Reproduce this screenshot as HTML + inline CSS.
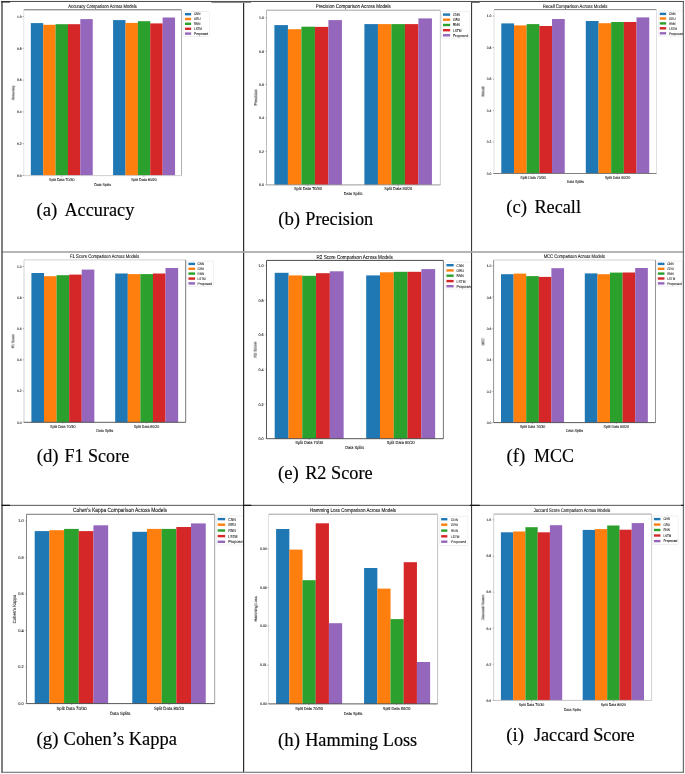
<!DOCTYPE html>
<html><head><meta charset="utf-8"><title>Metric comparison across models</title>
<style>html,body{margin:0;padding:0;background:#fff}body{width:685px;height:774px;overflow:hidden}svg{display:block;will-change:transform;opacity:0.999}.s{font-family:"Liberation Sans",sans-serif;fill:#1c1c1c;text-rendering:geometricPrecision}.s{stroke:#1c1c1c;stroke-width:0.1px;filter:url(#bl)}.l{stroke-width:0.08px;fill:#1c1c1c}.t{filter:none;fill:#111;stroke:#1c1c1c;stroke-width:0.1px}.c{font-family:"Liberation Serif",serif;font-size:17.9px;fill:#000;stroke:#000;stroke-width:0.16px}</style></head><body>
<svg width="685" height="774" viewBox="0 0 685 774">
<defs><filter id="bl" x="-5%" y="-30%" width="110%" height="160%"><feGaussianBlur stdDeviation="0.28"/></filter></defs>
<rect x="0" y="0" width="685" height="774" fill="#fff"/>
<g>
<rect x="30.8" y="23.1" width="12.43" height="152.5" fill="#1f77b4"/>
<rect x="43.18" y="24.8" width="12.43" height="150.8" fill="#ff7f0e"/>
<rect x="55.56" y="24.2" width="12.43" height="151.4" fill="#2ca02c"/>
<rect x="67.94" y="24.2" width="12.43" height="151.4" fill="#d62728"/>
<rect x="80.32" y="19.1" width="12.43" height="156.5" fill="#9467bd"/>
<rect x="113.1" y="20.1" width="12.43" height="155.5" fill="#1f77b4"/>
<rect x="125.48" y="22.9" width="12.43" height="152.7" fill="#ff7f0e"/>
<rect x="137.86" y="21.2" width="12.43" height="154.4" fill="#2ca02c"/>
<rect x="150.24" y="23.4" width="12.43" height="152.2" fill="#d62728"/>
<rect x="162.62" y="17.5" width="12.43" height="158.1" fill="#9467bd"/>
<line x1="23.8" y1="9.8" x2="181.5" y2="9.8" stroke="#5a5a5a" stroke-width="0.9"/>
<line x1="181.5" y1="9.8" x2="181.5" y2="175.6" stroke="#a8a8a8" stroke-width="0.9"/>
<line x1="23.8" y1="9.8" x2="23.8" y2="175.6" stroke="#e0e0e0" stroke-width="0.9"/>
<line x1="23.8" y1="175.6" x2="181.5" y2="175.6" stroke="#ccc" stroke-width="0.9"/>
<line x1="22.6" y1="16.5" x2="23.8" y2="16.5" stroke="#666" stroke-width="0.5"/>
<text class="s" x="21.6" y="17.85" font-size="3.33" text-anchor="end" textLength="4.54" lengthAdjust="spacingAndGlyphs">1.0</text>
<line x1="22.6" y1="48.3" x2="23.8" y2="48.3" stroke="#666" stroke-width="0.5"/>
<text class="s" x="21.6" y="49.65" font-size="3.33" text-anchor="end" textLength="4.54" lengthAdjust="spacingAndGlyphs">0.8</text>
<line x1="22.6" y1="80.1" x2="23.8" y2="80.1" stroke="#666" stroke-width="0.5"/>
<text class="s" x="21.6" y="81.45" font-size="3.33" text-anchor="end" textLength="4.54" lengthAdjust="spacingAndGlyphs">0.6</text>
<line x1="22.6" y1="111.9" x2="23.8" y2="111.9" stroke="#666" stroke-width="0.5"/>
<text class="s" x="21.6" y="113.25" font-size="3.33" text-anchor="end" textLength="4.54" lengthAdjust="spacingAndGlyphs">0.4</text>
<line x1="22.6" y1="143.7" x2="23.8" y2="143.7" stroke="#666" stroke-width="0.5"/>
<text class="s" x="21.6" y="145.05" font-size="3.33" text-anchor="end" textLength="4.54" lengthAdjust="spacingAndGlyphs">0.2</text>
<line x1="22.6" y1="175.5" x2="23.8" y2="175.5" stroke="#666" stroke-width="0.5"/>
<text class="s" x="21.6" y="176.85" font-size="3.33" text-anchor="end" textLength="4.54" lengthAdjust="spacingAndGlyphs">0.0</text>
<line x1="61.8" y1="175.6" x2="61.8" y2="176.8" stroke="#555" stroke-width="0.5"/>
<text class="s" x="61.8" y="180.59" font-size="3.86" text-anchor="middle" textLength="25.5" lengthAdjust="spacingAndGlyphs">Split Data 70/30</text>
<line x1="143.9" y1="175.6" x2="143.9" y2="176.8" stroke="#555" stroke-width="0.5"/>
<text class="s" x="143.9" y="180.59" font-size="3.86" text-anchor="middle" textLength="25.5" lengthAdjust="spacingAndGlyphs">Split Data 80/20</text>
<text class="s" x="102.6" y="185.69" font-size="3.86" text-anchor="middle" textLength="16.8" lengthAdjust="spacingAndGlyphs">Data Splits</text>
<text class="s" x="0" y="1.39" font-size="3.86" text-anchor="middle" textLength="14.7" lengthAdjust="spacingAndGlyphs" transform="translate(13.4 92.8) rotate(-90)">Accuracy</text>
<text class="s t" x="102.6" y="7.91" font-size="5.04" text-anchor="middle" textLength="68.6" lengthAdjust="spacingAndGlyphs">Accuracy Comparison Across Models</text>
<clipPath id="lc0"><rect x="182.2" y="10.5" width="27.6" height="27"/></clipPath><g clip-path="url(#lc0)">
<rect x="183.2" y="11.5" width="26.3" height="25" rx="0.8" fill="#fff" stroke="#e4e4e4" stroke-width="0.6"/>
<rect x="184.95" y="13" width="6.2" height="2.4" fill="#1f77b4"/>
<text class="s l" x="194" y="15.46" font-size="3.5" textLength="6.36" lengthAdjust="spacingAndGlyphs">CNN</text>
<rect x="184.95" y="17.8" width="6.2" height="2.4" fill="#ff7f0e"/>
<text class="s l" x="194" y="20.26" font-size="3.5" textLength="6.52" lengthAdjust="spacingAndGlyphs">GRU</text>
<rect x="184.95" y="22.6" width="6.2" height="2.4" fill="#2ca02c"/>
<text class="s l" x="194" y="25.06" font-size="3.5" textLength="6.36" lengthAdjust="spacingAndGlyphs">RNN</text>
<rect x="184.95" y="27.6" width="6.2" height="2.4" fill="#d62728"/>
<text class="s l" x="194" y="30.06" font-size="3.5" textLength="7.83" lengthAdjust="spacingAndGlyphs">LSTM</text>
<rect x="184.95" y="32.4" width="6.2" height="2.4" fill="#9467bd"/>
<text class="s l" x="194" y="34.86" font-size="3.5" textLength="14" lengthAdjust="spacingAndGlyphs">Proposed</text>
</g>
<text class="c" x="36.5" y="215.7" textLength="20.87" lengthAdjust="spacingAndGlyphs">(a)</text>
<text class="c" x="64.4" y="215.7" textLength="69.91" lengthAdjust="spacingAndGlyphs">Accuracy</text>
</g>
<g>
<rect x="274.4" y="25.1" width="13.55" height="159.8" fill="#1f77b4"/>
<rect x="287.9" y="29.2" width="13.55" height="155.7" fill="#ff7f0e"/>
<rect x="301.4" y="26.7" width="13.55" height="158.2" fill="#2ca02c"/>
<rect x="314.9" y="26.9" width="13.55" height="158" fill="#d62728"/>
<rect x="328.4" y="20.1" width="13.55" height="164.8" fill="#9467bd"/>
<rect x="364.4" y="24.1" width="13.55" height="160.8" fill="#1f77b4"/>
<rect x="377.9" y="24.1" width="13.55" height="160.8" fill="#ff7f0e"/>
<rect x="391.4" y="24.1" width="13.55" height="160.8" fill="#2ca02c"/>
<rect x="404.9" y="24.1" width="13.55" height="160.8" fill="#d62728"/>
<rect x="418.4" y="18.4" width="13.55" height="166.5" fill="#9467bd"/>
<line x1="266.5" y1="10.2" x2="440.4" y2="10.2" stroke="#999" stroke-width="0.9"/>
<line x1="440.4" y1="10.2" x2="440.4" y2="184.9" stroke="#c8c8c8" stroke-width="0.9"/>
<line x1="266.5" y1="10.2" x2="266.5" y2="184.9" stroke="#b4b4b4" stroke-width="0.9"/>
<line x1="266.5" y1="184.9" x2="440.4" y2="184.9" stroke="#909090" stroke-width="0.9"/>
<line x1="265.3" y1="17.8" x2="266.5" y2="17.8" stroke="#666" stroke-width="0.5"/>
<text class="s" x="264" y="19.27" font-size="3.67" text-anchor="end" textLength="5.01" lengthAdjust="spacingAndGlyphs">1.0</text>
<line x1="265.3" y1="51.2" x2="266.5" y2="51.2" stroke="#666" stroke-width="0.5"/>
<text class="s" x="264" y="52.67" font-size="3.67" text-anchor="end" textLength="5.01" lengthAdjust="spacingAndGlyphs">0.8</text>
<line x1="265.3" y1="84.5" x2="266.5" y2="84.5" stroke="#666" stroke-width="0.5"/>
<text class="s" x="264" y="85.97" font-size="3.67" text-anchor="end" textLength="5.01" lengthAdjust="spacingAndGlyphs">0.6</text>
<line x1="265.3" y1="117.9" x2="266.5" y2="117.9" stroke="#666" stroke-width="0.5"/>
<text class="s" x="264" y="119.37" font-size="3.67" text-anchor="end" textLength="5.01" lengthAdjust="spacingAndGlyphs">0.4</text>
<line x1="265.3" y1="151.4" x2="266.5" y2="151.4" stroke="#666" stroke-width="0.5"/>
<text class="s" x="264" y="152.87" font-size="3.67" text-anchor="end" textLength="5.01" lengthAdjust="spacingAndGlyphs">0.2</text>
<line x1="265.3" y1="184.8" x2="266.5" y2="184.8" stroke="#666" stroke-width="0.5"/>
<text class="s" x="264" y="186.27" font-size="3.67" text-anchor="end" textLength="5.01" lengthAdjust="spacingAndGlyphs">0.0</text>
<line x1="308" y1="184.9" x2="308" y2="186.1" stroke="#555" stroke-width="0.5"/>
<text class="s" x="308" y="190.23" font-size="4.26" text-anchor="middle" textLength="28" lengthAdjust="spacingAndGlyphs">Split Data 70/30</text>
<line x1="398.3" y1="184.9" x2="398.3" y2="186.1" stroke="#555" stroke-width="0.5"/>
<text class="s" x="398.3" y="190.23" font-size="4.26" text-anchor="middle" textLength="28" lengthAdjust="spacingAndGlyphs">Split Data 80/20</text>
<text class="s" x="353.1" y="194.93" font-size="4.26" text-anchor="middle" textLength="18.6" lengthAdjust="spacingAndGlyphs">Data Splits</text>
<text class="s" x="0" y="1.53" font-size="4.26" text-anchor="middle" textLength="15.93" lengthAdjust="spacingAndGlyphs" transform="translate(255.2 97.5) rotate(-90)">Precision</text>
<text class="s t" x="353.3" y="8.3" font-size="5.56" text-anchor="middle" textLength="75" lengthAdjust="spacingAndGlyphs">Precision Comparison Across Models</text>
<clipPath id="lc1"><rect x="440.5" y="10.7" width="29.8" height="28.5"/></clipPath><g clip-path="url(#lc1)">
<rect x="441.5" y="11.7" width="28.5" height="26.5" rx="0.8" fill="#fff" stroke="#e4e4e4" stroke-width="0.6"/>
<rect x="442.95" y="13.4" width="7.2" height="2.4" fill="#1f77b4"/>
<text class="s l" x="452.9" y="15.99" font-size="3.86" textLength="7.01" lengthAdjust="spacingAndGlyphs">CNN</text>
<rect x="442.95" y="18.5" width="7.2" height="2.4" fill="#ff7f0e"/>
<text class="s l" x="452.9" y="21.09" font-size="3.86" textLength="7.19" lengthAdjust="spacingAndGlyphs">GRU</text>
<rect x="442.95" y="23.8" width="7.2" height="2.4" fill="#2ca02c"/>
<text class="s l" x="452.9" y="26.39" font-size="3.86" textLength="7.01" lengthAdjust="spacingAndGlyphs">RNN</text>
<rect x="442.95" y="29" width="7.2" height="2.4" fill="#d62728"/>
<text class="s l" x="452.9" y="31.59" font-size="3.86" textLength="8.64" lengthAdjust="spacingAndGlyphs">LSTM</text>
<rect x="442.95" y="34.1" width="7.2" height="2.4" fill="#9467bd"/>
<text class="s l" x="452.9" y="36.69" font-size="3.86" textLength="15.44" lengthAdjust="spacingAndGlyphs">Proposed</text>
</g>
<text class="c" x="278.2" y="224.7" textLength="21.92" lengthAdjust="spacingAndGlyphs">(b)</text>
<text class="c" x="305.3" y="224.7" textLength="67.92" lengthAdjust="spacingAndGlyphs">Precision</text>
</g>
<g>
<rect x="501.3" y="23.4" width="12.73" height="150.1" fill="#1f77b4"/>
<rect x="513.98" y="25.4" width="12.73" height="148.1" fill="#ff7f0e"/>
<rect x="526.66" y="24.1" width="12.73" height="149.4" fill="#2ca02c"/>
<rect x="539.34" y="26" width="12.73" height="147.5" fill="#d62728"/>
<rect x="552.02" y="19" width="12.73" height="154.5" fill="#9467bd"/>
<rect x="585.8" y="21" width="12.73" height="152.5" fill="#1f77b4"/>
<rect x="598.48" y="23.2" width="12.73" height="150.3" fill="#ff7f0e"/>
<rect x="611.16" y="22" width="12.73" height="151.5" fill="#2ca02c"/>
<rect x="623.84" y="22" width="12.73" height="151.5" fill="#d62728"/>
<rect x="636.52" y="17.4" width="12.73" height="156.1" fill="#9467bd"/>
<line x1="494" y1="9.6" x2="656.5" y2="9.6" stroke="#777" stroke-width="0.9"/>
<line x1="656.5" y1="9.6" x2="656.5" y2="173.5" stroke="#ddd" stroke-width="0.9"/>
<line x1="494" y1="9.6" x2="494" y2="173.5" stroke="#ddd" stroke-width="0.9"/>
<line x1="494" y1="173.5" x2="656.5" y2="173.5" stroke="#707070" stroke-width="0.9"/>
<line x1="492.8" y1="16.1" x2="494" y2="16.1" stroke="#666" stroke-width="0.5"/>
<text class="s" x="491.5" y="17.49" font-size="3.43" text-anchor="end" textLength="4.68" lengthAdjust="spacingAndGlyphs">1.0</text>
<line x1="492.8" y1="47.6" x2="494" y2="47.6" stroke="#666" stroke-width="0.5"/>
<text class="s" x="491.5" y="48.99" font-size="3.43" text-anchor="end" textLength="4.68" lengthAdjust="spacingAndGlyphs">0.8</text>
<line x1="492.8" y1="79" x2="494" y2="79" stroke="#666" stroke-width="0.5"/>
<text class="s" x="491.5" y="80.39" font-size="3.43" text-anchor="end" textLength="4.68" lengthAdjust="spacingAndGlyphs">0.6</text>
<line x1="492.8" y1="110.5" x2="494" y2="110.5" stroke="#666" stroke-width="0.5"/>
<text class="s" x="491.5" y="111.89" font-size="3.43" text-anchor="end" textLength="4.68" lengthAdjust="spacingAndGlyphs">0.4</text>
<line x1="492.8" y1="142" x2="494" y2="142" stroke="#666" stroke-width="0.5"/>
<text class="s" x="491.5" y="143.39" font-size="3.43" text-anchor="end" textLength="4.68" lengthAdjust="spacingAndGlyphs">0.2</text>
<line x1="492.8" y1="173.5" x2="494" y2="173.5" stroke="#666" stroke-width="0.5"/>
<text class="s" x="491.5" y="174.89" font-size="3.43" text-anchor="end" textLength="4.68" lengthAdjust="spacingAndGlyphs">0.0</text>
<line x1="533" y1="173.5" x2="533" y2="174.7" stroke="#555" stroke-width="0.5"/>
<text class="s" x="533" y="178.73" font-size="3.98" text-anchor="middle" textLength="25.5" lengthAdjust="spacingAndGlyphs">Split Data 70/30</text>
<line x1="617.5" y1="173.5" x2="617.5" y2="174.7" stroke="#555" stroke-width="0.5"/>
<text class="s" x="617.5" y="178.73" font-size="3.98" text-anchor="middle" textLength="25.5" lengthAdjust="spacingAndGlyphs">Split Data 80/20</text>
<text class="s" x="575.2" y="182.83" font-size="3.98" text-anchor="middle" textLength="17" lengthAdjust="spacingAndGlyphs">Data Splits</text>
<text class="s" x="0" y="1.43" font-size="3.98" text-anchor="middle" textLength="10.06" lengthAdjust="spacingAndGlyphs" transform="translate(483.4 91.5) rotate(-90)">Recall</text>
<text class="s t" x="575.1" y="7.87" font-size="5.19" text-anchor="middle" textLength="64.6" lengthAdjust="spacingAndGlyphs">Recall Comparison Across Models</text>
<clipPath id="lc2"><rect x="657.4" y="10" width="26.1" height="27"/></clipPath><g clip-path="url(#lc2)">
<rect x="658.4" y="11" width="24.8" height="25" rx="0.8" fill="#fff" stroke="#e4e4e4" stroke-width="0.6"/>
<rect x="659.75" y="12.7" width="6.4" height="2.4" fill="#1f77b4"/>
<text class="s l" x="669" y="15.2" font-size="3.61" textLength="6.55" lengthAdjust="spacingAndGlyphs">CNN</text>
<rect x="659.75" y="17.3" width="6.4" height="2.4" fill="#ff7f0e"/>
<text class="s l" x="669" y="19.8" font-size="3.61" textLength="6.72" lengthAdjust="spacingAndGlyphs">GRU</text>
<rect x="659.75" y="22.2" width="6.4" height="2.4" fill="#2ca02c"/>
<text class="s l" x="669" y="24.7" font-size="3.61" textLength="6.55" lengthAdjust="spacingAndGlyphs">RNN</text>
<rect x="659.75" y="27.1" width="6.4" height="2.4" fill="#d62728"/>
<text class="s l" x="669" y="29.6" font-size="3.61" textLength="8.07" lengthAdjust="spacingAndGlyphs">LSTM</text>
<rect x="659.75" y="32.1" width="6.4" height="2.4" fill="#9467bd"/>
<text class="s l" x="669" y="34.6" font-size="3.61" textLength="14.42" lengthAdjust="spacingAndGlyphs">Proposed</text>
</g>
<text class="c" x="506.2" y="213.1" textLength="20.87" lengthAdjust="spacingAndGlyphs">(c)</text>
<text class="c" x="534.4" y="213.1" textLength="46.61" lengthAdjust="spacingAndGlyphs">Recall</text>
</g>
<g>
<rect x="31.4" y="273" width="12.63" height="149.3" fill="#1f77b4"/>
<rect x="43.98" y="276.2" width="12.63" height="146.1" fill="#ff7f0e"/>
<rect x="56.56" y="275.2" width="12.63" height="147.1" fill="#2ca02c"/>
<rect x="69.14" y="274.6" width="12.63" height="147.7" fill="#d62728"/>
<rect x="81.72" y="269.6" width="12.63" height="152.7" fill="#9467bd"/>
<rect x="115.2" y="273.5" width="12.63" height="148.8" fill="#1f77b4"/>
<rect x="127.78" y="274.1" width="12.63" height="148.2" fill="#ff7f0e"/>
<rect x="140.36" y="274.1" width="12.63" height="148.2" fill="#2ca02c"/>
<rect x="152.94" y="273.5" width="12.63" height="148.8" fill="#d62728"/>
<rect x="165.52" y="268" width="12.63" height="154.3" fill="#9467bd"/>
<line x1="24" y1="259.9" x2="185.7" y2="259.9" stroke="#ccc" stroke-width="0.9"/>
<line x1="185.7" y1="259.9" x2="185.7" y2="422.3" stroke="#6a6a6a" stroke-width="0.9"/>
<line x1="24" y1="259.9" x2="24" y2="422.3" stroke="#ccc" stroke-width="0.9"/>
<line x1="24" y1="422.3" x2="185.7" y2="422.3" stroke="#484848" stroke-width="0.9"/>
<line x1="22.8" y1="266.4" x2="24" y2="266.4" stroke="#666" stroke-width="0.5"/>
<text class="s" x="21.6" y="267.78" font-size="3.42" text-anchor="end" textLength="4.66" lengthAdjust="spacingAndGlyphs">1.0</text>
<line x1="22.8" y1="297.55" x2="24" y2="297.55" stroke="#666" stroke-width="0.5"/>
<text class="s" x="21.6" y="298.93" font-size="3.42" text-anchor="end" textLength="4.66" lengthAdjust="spacingAndGlyphs">0.8</text>
<line x1="22.8" y1="328.7" x2="24" y2="328.7" stroke="#666" stroke-width="0.5"/>
<text class="s" x="21.6" y="330.08" font-size="3.42" text-anchor="end" textLength="4.66" lengthAdjust="spacingAndGlyphs">0.6</text>
<line x1="22.8" y1="359.85" x2="24" y2="359.85" stroke="#666" stroke-width="0.5"/>
<text class="s" x="21.6" y="361.23" font-size="3.42" text-anchor="end" textLength="4.66" lengthAdjust="spacingAndGlyphs">0.4</text>
<line x1="22.8" y1="391" x2="24" y2="391" stroke="#666" stroke-width="0.5"/>
<text class="s" x="21.6" y="392.38" font-size="3.42" text-anchor="end" textLength="4.66" lengthAdjust="spacingAndGlyphs">0.2</text>
<line x1="22.8" y1="422.2" x2="24" y2="422.2" stroke="#666" stroke-width="0.5"/>
<text class="s" x="21.6" y="423.58" font-size="3.42" text-anchor="end" textLength="4.66" lengthAdjust="spacingAndGlyphs">0.0</text>
<line x1="62.8" y1="422.3" x2="62.8" y2="423.5" stroke="#555" stroke-width="0.5"/>
<text class="s" x="62.8" y="427.73" font-size="3.96" text-anchor="middle" textLength="25.5" lengthAdjust="spacingAndGlyphs">Split Data 70/30</text>
<line x1="146.6" y1="422.3" x2="146.6" y2="423.5" stroke="#555" stroke-width="0.5"/>
<text class="s" x="146.6" y="427.73" font-size="3.96" text-anchor="middle" textLength="25.5" lengthAdjust="spacingAndGlyphs">Split Data 80/20</text>
<text class="s" x="104.8" y="431.83" font-size="3.96" text-anchor="middle" textLength="17" lengthAdjust="spacingAndGlyphs">Data Splits</text>
<text class="s" x="0" y="1.43" font-size="3.96" text-anchor="middle" textLength="14.2" lengthAdjust="spacingAndGlyphs" transform="translate(13.4 341.2) rotate(-90)">F1 Score</text>
<text class="s t" x="104.6" y="258.06" font-size="5.17" text-anchor="middle" textLength="69.1" lengthAdjust="spacingAndGlyphs">F1 Score Comparison Across Models</text>
<clipPath id="lc3"><rect x="186" y="260.1" width="27.9" height="27.1"/></clipPath><g clip-path="url(#lc3)">
<rect x="187" y="261.1" width="26.6" height="25.1" rx="0.8" fill="#fff" stroke="#e4e4e4" stroke-width="0.6"/>
<rect x="188.45" y="262.7" width="6.6" height="2.4" fill="#1f77b4"/>
<text class="s l" x="197.6" y="265.19" font-size="3.59" textLength="6.52" lengthAdjust="spacingAndGlyphs">CNN</text>
<rect x="188.45" y="267.6" width="6.6" height="2.4" fill="#ff7f0e"/>
<text class="s l" x="197.6" y="270.09" font-size="3.59" textLength="6.69" lengthAdjust="spacingAndGlyphs">GRU</text>
<rect x="188.45" y="272.4" width="6.6" height="2.4" fill="#2ca02c"/>
<text class="s l" x="197.6" y="274.89" font-size="3.59" textLength="6.52" lengthAdjust="spacingAndGlyphs">RNN</text>
<rect x="188.45" y="277.4" width="6.6" height="2.4" fill="#d62728"/>
<text class="s l" x="197.6" y="279.89" font-size="3.59" textLength="8.03" lengthAdjust="spacingAndGlyphs">LSTM</text>
<rect x="188.45" y="282.2" width="6.6" height="2.4" fill="#9467bd"/>
<text class="s l" x="197.6" y="284.69" font-size="3.59" textLength="14.35" lengthAdjust="spacingAndGlyphs">Proposed</text>
</g>
<text class="c" x="36.7" y="461.5" textLength="21.92" lengthAdjust="spacingAndGlyphs">(d)</text>
<text class="c" x="64.5" y="461.5" textLength="64.67" lengthAdjust="spacingAndGlyphs">F1 Score</text>
</g>
<g>
<rect x="274.7" y="272.8" width="13.83" height="165.9" fill="#1f77b4"/>
<rect x="288.48" y="275.4" width="13.83" height="163.3" fill="#ff7f0e"/>
<rect x="302.26" y="275.8" width="13.83" height="162.9" fill="#2ca02c"/>
<rect x="316.04" y="273.2" width="13.83" height="165.5" fill="#d62728"/>
<rect x="329.82" y="271.3" width="13.83" height="167.4" fill="#9467bd"/>
<rect x="366.2" y="275.4" width="13.83" height="163.3" fill="#1f77b4"/>
<rect x="379.98" y="272.3" width="13.83" height="166.4" fill="#ff7f0e"/>
<rect x="393.76" y="271.8" width="13.83" height="166.9" fill="#2ca02c"/>
<rect x="407.54" y="271.8" width="13.83" height="166.9" fill="#d62728"/>
<rect x="421.32" y="269.1" width="13.83" height="169.6" fill="#9467bd"/>
<line x1="266.5" y1="260.4" x2="443.4" y2="260.4" stroke="#333" stroke-width="0.9"/>
<line x1="443.4" y1="260.4" x2="443.4" y2="438.7" stroke="#666" stroke-width="0.9"/>
<line x1="266.5" y1="260.4" x2="266.5" y2="438.7" stroke="#444" stroke-width="0.9"/>
<line x1="266.5" y1="438.7" x2="443.4" y2="438.7" stroke="#444" stroke-width="0.9"/>
<line x1="265.3" y1="265.4" x2="266.5" y2="265.4" stroke="#666" stroke-width="0.5"/>
<text class="s" x="263.6" y="266.9" font-size="3.74" text-anchor="end" textLength="5.09" lengthAdjust="spacingAndGlyphs">1.0</text>
<line x1="265.3" y1="300.05" x2="266.5" y2="300.05" stroke="#666" stroke-width="0.5"/>
<text class="s" x="263.6" y="301.55" font-size="3.74" text-anchor="end" textLength="5.09" lengthAdjust="spacingAndGlyphs">0.8</text>
<line x1="265.3" y1="334.7" x2="266.5" y2="334.7" stroke="#666" stroke-width="0.5"/>
<text class="s" x="263.6" y="336.2" font-size="3.74" text-anchor="end" textLength="5.09" lengthAdjust="spacingAndGlyphs">0.6</text>
<line x1="265.3" y1="369.35" x2="266.5" y2="369.35" stroke="#666" stroke-width="0.5"/>
<text class="s" x="263.6" y="370.85" font-size="3.74" text-anchor="end" textLength="5.09" lengthAdjust="spacingAndGlyphs">0.4</text>
<line x1="265.3" y1="404" x2="266.5" y2="404" stroke="#666" stroke-width="0.5"/>
<text class="s" x="263.6" y="405.5" font-size="3.74" text-anchor="end" textLength="5.09" lengthAdjust="spacingAndGlyphs">0.2</text>
<line x1="265.3" y1="438.65" x2="266.5" y2="438.65" stroke="#666" stroke-width="0.5"/>
<text class="s" x="263.6" y="440.15" font-size="3.74" text-anchor="end" textLength="5.09" lengthAdjust="spacingAndGlyphs">0.0</text>
<line x1="309.3" y1="438.7" x2="309.3" y2="439.9" stroke="#555" stroke-width="0.5"/>
<text class="s" x="309.3" y="443.76" font-size="4.33" text-anchor="middle" textLength="28" lengthAdjust="spacingAndGlyphs">Split Data 70/30</text>
<line x1="400.8" y1="438.7" x2="400.8" y2="439.9" stroke="#555" stroke-width="0.5"/>
<text class="s" x="400.8" y="443.76" font-size="4.33" text-anchor="middle" textLength="28" lengthAdjust="spacingAndGlyphs">Split Data 80/20</text>
<text class="s" x="354.7" y="448.66" font-size="4.33" text-anchor="middle" textLength="18.9" lengthAdjust="spacingAndGlyphs">Data Splits</text>
<text class="s" x="0" y="1.56" font-size="4.33" text-anchor="middle" textLength="15.7" lengthAdjust="spacingAndGlyphs" transform="translate(254.7 349.7) rotate(-90)">R2 Score</text>
<text class="s t" x="354.7" y="258.74" font-size="5.65" text-anchor="middle" textLength="76.4" lengthAdjust="spacingAndGlyphs">R2 Score Comparison Across Models</text>
<clipPath id="lc4"><rect x="444.2" y="261.1" width="27.3" height="29"/></clipPath><g clip-path="url(#lc4)">
<rect x="445.2" y="262.1" width="26" height="27" rx="0.8" fill="#fff" stroke="#e4e4e4" stroke-width="0.6"/>
<rect x="446.45" y="264" width="7.2" height="2.4" fill="#1f77b4"/>
<text class="s l" x="456.6" y="266.61" font-size="3.93" textLength="7.14" lengthAdjust="spacingAndGlyphs">CNN</text>
<rect x="446.45" y="269.2" width="7.2" height="2.4" fill="#ff7f0e"/>
<text class="s l" x="456.6" y="271.81" font-size="3.93" textLength="7.32" lengthAdjust="spacingAndGlyphs">GRU</text>
<rect x="446.45" y="274.5" width="7.2" height="2.4" fill="#2ca02c"/>
<text class="s l" x="456.6" y="277.11" font-size="3.93" textLength="7.14" lengthAdjust="spacingAndGlyphs">RNN</text>
<rect x="446.45" y="279.9" width="7.2" height="2.4" fill="#d62728"/>
<text class="s l" x="456.6" y="282.51" font-size="3.93" textLength="8.78" lengthAdjust="spacingAndGlyphs">LSTM</text>
<rect x="446.45" y="285" width="7.2" height="2.4" fill="#9467bd"/>
<text class="s l" x="456.6" y="287.61" font-size="3.93" textLength="15.7" lengthAdjust="spacingAndGlyphs">Proposed</text>
</g>
<text class="c" x="278" y="478.6" textLength="20.87" lengthAdjust="spacingAndGlyphs">(e)</text>
<text class="c" x="305.2" y="478.6" textLength="67.41" lengthAdjust="spacingAndGlyphs">R2 Score</text>
</g>
<g>
<rect x="501" y="274.2" width="12.65" height="148.4" fill="#1f77b4"/>
<rect x="513.6" y="273.6" width="12.65" height="149" fill="#ff7f0e"/>
<rect x="526.2" y="276.1" width="12.65" height="146.5" fill="#2ca02c"/>
<rect x="538.8" y="276.9" width="12.65" height="145.7" fill="#d62728"/>
<rect x="551.4" y="268.2" width="12.65" height="154.4" fill="#9467bd"/>
<rect x="584.8" y="273.4" width="12.65" height="149.2" fill="#1f77b4"/>
<rect x="597.4" y="274.2" width="12.65" height="148.4" fill="#ff7f0e"/>
<rect x="610" y="272.6" width="12.65" height="150" fill="#2ca02c"/>
<rect x="622.6" y="272.5" width="12.65" height="150.1" fill="#d62728"/>
<rect x="635.2" y="268" width="12.65" height="154.6" fill="#9467bd"/>
<line x1="493.6" y1="260" x2="655.5" y2="260" stroke="#ccc" stroke-width="0.9"/>
<line x1="655.5" y1="260" x2="655.5" y2="422.6" stroke="#888" stroke-width="0.9"/>
<line x1="493.6" y1="260" x2="493.6" y2="422.6" stroke="#888" stroke-width="0.9"/>
<line x1="493.6" y1="422.6" x2="655.5" y2="422.6" stroke="#484848" stroke-width="0.9"/>
<line x1="492.4" y1="265.8" x2="493.6" y2="265.8" stroke="#666" stroke-width="0.5"/>
<text class="s" x="491.3" y="267.18" font-size="3.42" text-anchor="end" textLength="4.66" lengthAdjust="spacingAndGlyphs">1.0</text>
<line x1="492.4" y1="297.15" x2="493.6" y2="297.15" stroke="#666" stroke-width="0.5"/>
<text class="s" x="491.3" y="298.53" font-size="3.42" text-anchor="end" textLength="4.66" lengthAdjust="spacingAndGlyphs">0.8</text>
<line x1="492.4" y1="328.5" x2="493.6" y2="328.5" stroke="#666" stroke-width="0.5"/>
<text class="s" x="491.3" y="329.88" font-size="3.42" text-anchor="end" textLength="4.66" lengthAdjust="spacingAndGlyphs">0.6</text>
<line x1="492.4" y1="359.9" x2="493.6" y2="359.9" stroke="#666" stroke-width="0.5"/>
<text class="s" x="491.3" y="361.28" font-size="3.42" text-anchor="end" textLength="4.66" lengthAdjust="spacingAndGlyphs">0.4</text>
<line x1="492.4" y1="391.25" x2="493.6" y2="391.25" stroke="#666" stroke-width="0.5"/>
<text class="s" x="491.3" y="392.63" font-size="3.42" text-anchor="end" textLength="4.66" lengthAdjust="spacingAndGlyphs">0.2</text>
<line x1="492.4" y1="422.6" x2="493.6" y2="422.6" stroke="#666" stroke-width="0.5"/>
<text class="s" x="491.3" y="423.98" font-size="3.42" text-anchor="end" textLength="4.66" lengthAdjust="spacingAndGlyphs">0.0</text>
<line x1="532.5" y1="422.6" x2="532.5" y2="423.8" stroke="#555" stroke-width="0.5"/>
<text class="s" x="532.5" y="427.73" font-size="3.97" text-anchor="middle" textLength="25.5" lengthAdjust="spacingAndGlyphs">Split Data 70/30</text>
<line x1="616.3" y1="422.6" x2="616.3" y2="423.8" stroke="#555" stroke-width="0.5"/>
<text class="s" x="616.3" y="427.73" font-size="3.97" text-anchor="middle" textLength="25.5" lengthAdjust="spacingAndGlyphs">Split Data 80/20</text>
<text class="s" x="574.5" y="431.83" font-size="3.97" text-anchor="middle" textLength="17" lengthAdjust="spacingAndGlyphs">Data Splits</text>
<text class="s" x="0" y="1.43" font-size="3.97" text-anchor="middle" textLength="7.1" lengthAdjust="spacingAndGlyphs" transform="translate(483.4 341.6) rotate(-90)">MCC</text>
<text class="s t" x="574.3" y="258.16" font-size="5.17" text-anchor="middle" textLength="61.3" lengthAdjust="spacingAndGlyphs">MCC Comparison Across Models</text>
<clipPath id="lc5"><rect x="655.8" y="260" width="27.1" height="27.2"/></clipPath><g clip-path="url(#lc5)">
<rect x="656.8" y="261" width="25.8" height="25.2" rx="0.8" fill="#fff" stroke="#e4e4e4" stroke-width="0.6"/>
<rect x="657.85" y="262.7" width="6.6" height="2.4" fill="#1f77b4"/>
<text class="s l" x="667.2" y="265.19" font-size="3.6" textLength="6.53" lengthAdjust="spacingAndGlyphs">CNN</text>
<rect x="657.85" y="267.6" width="6.6" height="2.4" fill="#ff7f0e"/>
<text class="s l" x="667.2" y="270.09" font-size="3.6" textLength="6.7" lengthAdjust="spacingAndGlyphs">GRU</text>
<rect x="657.85" y="272.4" width="6.6" height="2.4" fill="#2ca02c"/>
<text class="s l" x="667.2" y="274.89" font-size="3.6" textLength="6.53" lengthAdjust="spacingAndGlyphs">RNN</text>
<rect x="657.85" y="277.3" width="6.6" height="2.4" fill="#d62728"/>
<text class="s l" x="667.2" y="279.79" font-size="3.6" textLength="8.04" lengthAdjust="spacingAndGlyphs">LSTM</text>
<rect x="657.85" y="282.2" width="6.6" height="2.4" fill="#9467bd"/>
<text class="s l" x="667.2" y="284.69" font-size="3.6" textLength="14.37" lengthAdjust="spacingAndGlyphs">Proposed</text>
</g>
<text class="c" x="506.5" y="461.5" textLength="18.78" lengthAdjust="spacingAndGlyphs">(f)</text>
<text class="c" x="534.1" y="461.5" textLength="40.02" lengthAdjust="spacingAndGlyphs">MCC</text>
</g>
<g>
<rect x="34.7" y="531.1" width="14.73" height="172.5" fill="#1f77b4"/>
<rect x="49.38" y="530.2" width="14.73" height="173.4" fill="#ff7f0e"/>
<rect x="64.06" y="528.9" width="14.73" height="174.7" fill="#2ca02c"/>
<rect x="78.74" y="531.1" width="14.73" height="172.5" fill="#d62728"/>
<rect x="93.42" y="525.3" width="14.73" height="178.3" fill="#9467bd"/>
<rect x="132.3" y="531.8" width="14.73" height="171.8" fill="#1f77b4"/>
<rect x="146.98" y="528.9" width="14.73" height="174.7" fill="#ff7f0e"/>
<rect x="161.66" y="528.9" width="14.73" height="174.7" fill="#2ca02c"/>
<rect x="176.34" y="527" width="14.73" height="176.6" fill="#d62728"/>
<rect x="191.02" y="523.4" width="14.73" height="180.2" fill="#9467bd"/>
<line x1="26.5" y1="514.3" x2="214.7" y2="514.3" stroke="#666" stroke-width="0.9"/>
<line x1="214.7" y1="514.3" x2="214.7" y2="703.6" stroke="#999" stroke-width="0.9"/>
<line x1="26.5" y1="514.3" x2="26.5" y2="703.6" stroke="#777" stroke-width="0.9"/>
<line x1="26.5" y1="703.6" x2="214.7" y2="703.6" stroke="#444" stroke-width="0.9"/>
<line x1="25.3" y1="520.9" x2="26.5" y2="520.9" stroke="#666" stroke-width="0.5"/>
<text class="s" x="23.7" y="522.48" font-size="3.98" text-anchor="end" textLength="5.42" lengthAdjust="spacingAndGlyphs">1.0</text>
<line x1="25.3" y1="557.4" x2="26.5" y2="557.4" stroke="#666" stroke-width="0.5"/>
<text class="s" x="23.7" y="558.98" font-size="3.98" text-anchor="end" textLength="5.42" lengthAdjust="spacingAndGlyphs">0.8</text>
<line x1="25.3" y1="593.9" x2="26.5" y2="593.9" stroke="#666" stroke-width="0.5"/>
<text class="s" x="23.7" y="595.48" font-size="3.98" text-anchor="end" textLength="5.42" lengthAdjust="spacingAndGlyphs">0.6</text>
<line x1="25.3" y1="630.4" x2="26.5" y2="630.4" stroke="#666" stroke-width="0.5"/>
<text class="s" x="23.7" y="631.98" font-size="3.98" text-anchor="end" textLength="5.42" lengthAdjust="spacingAndGlyphs">0.4</text>
<line x1="25.3" y1="666.9" x2="26.5" y2="666.9" stroke="#666" stroke-width="0.5"/>
<text class="s" x="23.7" y="668.48" font-size="3.98" text-anchor="end" textLength="5.42" lengthAdjust="spacingAndGlyphs">0.2</text>
<line x1="25.3" y1="703.4" x2="26.5" y2="703.4" stroke="#666" stroke-width="0.5"/>
<text class="s" x="23.7" y="704.98" font-size="3.98" text-anchor="end" textLength="5.42" lengthAdjust="spacingAndGlyphs">0.0</text>
<line x1="71.6" y1="703.6" x2="71.6" y2="704.8" stroke="#555" stroke-width="0.5"/>
<text class="s" x="71.6" y="709.56" font-size="4.61" text-anchor="middle" textLength="30.2" lengthAdjust="spacingAndGlyphs">Split Data 70/30</text>
<line x1="169" y1="703.6" x2="169" y2="704.8" stroke="#555" stroke-width="0.5"/>
<text class="s" x="169" y="709.56" font-size="4.61" text-anchor="middle" textLength="30.2" lengthAdjust="spacingAndGlyphs">Split Data 80/20</text>
<text class="s" x="120.2" y="714.76" font-size="4.61" text-anchor="middle" textLength="20.5" lengthAdjust="spacingAndGlyphs">Data Splits</text>
<text class="s" x="0" y="1.66" font-size="4.61" text-anchor="middle" textLength="28.5" lengthAdjust="spacingAndGlyphs" transform="translate(14 609.1) rotate(-90)">Cohen&#39;s Kappa</text>
<text class="s t" x="120" y="512.37" font-size="6.02" text-anchor="middle" textLength="94.1" lengthAdjust="spacingAndGlyphs">Cohen&#39;s Kappa Comparison Across Models</text>
<clipPath id="lc6"><rect x="215.5" y="515" width="28.1" height="31"/></clipPath><g clip-path="url(#lc6)">
<rect x="216.5" y="516" width="26.8" height="29" rx="0.8" fill="#fff" stroke="#e4e4e4" stroke-width="0.6"/>
<rect x="217.65" y="517.9" width="7.5" height="2.4" fill="#1f77b4"/>
<text class="s l" x="228.2" y="520.61" font-size="4.18" textLength="7.59" lengthAdjust="spacingAndGlyphs">CNN</text>
<rect x="217.65" y="523.5" width="7.5" height="2.4" fill="#ff7f0e"/>
<text class="s l" x="228.2" y="526.21" font-size="4.18" textLength="7.79" lengthAdjust="spacingAndGlyphs">GRU</text>
<rect x="217.65" y="529.3" width="7.5" height="2.4" fill="#2ca02c"/>
<text class="s l" x="228.2" y="532.01" font-size="4.18" textLength="7.59" lengthAdjust="spacingAndGlyphs">RNN</text>
<rect x="217.65" y="534.9" width="7.5" height="2.4" fill="#d62728"/>
<text class="s l" x="228.2" y="537.61" font-size="4.18" textLength="9.35" lengthAdjust="spacingAndGlyphs">LSTM</text>
<rect x="217.65" y="540.6" width="7.5" height="2.4" fill="#9467bd"/>
<text class="s l" x="228.2" y="543.31" font-size="4.18" textLength="16.7" lengthAdjust="spacingAndGlyphs">Proposed</text>
</g>
<text class="c" x="36.5" y="745" textLength="21.92" lengthAdjust="spacingAndGlyphs">(g)</text>
<text class="c" x="63.6" y="745" textLength="113.24" lengthAdjust="spacingAndGlyphs">Cohen’s Kappa</text>
</g>
<g>
<rect x="276.1" y="529" width="13.25" height="174.9" fill="#1f77b4"/>
<rect x="289.3" y="549.6" width="13.25" height="154.3" fill="#ff7f0e"/>
<rect x="302.5" y="580.2" width="13.25" height="123.7" fill="#2ca02c"/>
<rect x="315.7" y="523.3" width="13.25" height="180.6" fill="#d62728"/>
<rect x="328.9" y="623.2" width="13.25" height="80.7" fill="#9467bd"/>
<rect x="364.1" y="568" width="13.25" height="135.9" fill="#1f77b4"/>
<rect x="377.3" y="588.6" width="13.25" height="115.3" fill="#ff7f0e"/>
<rect x="390.5" y="619.1" width="13.25" height="84.8" fill="#2ca02c"/>
<rect x="403.7" y="562.2" width="13.25" height="141.7" fill="#d62728"/>
<rect x="416.9" y="662" width="13.25" height="41.9" fill="#9467bd"/>
<line x1="268.5" y1="514.2" x2="437.6" y2="514.2" stroke="#999" stroke-width="0.9"/>
<line x1="437.6" y1="514.2" x2="437.6" y2="703.9" stroke="#bbb" stroke-width="0.9"/>
<line x1="268.5" y1="514.2" x2="268.5" y2="703.9" stroke="#ddd" stroke-width="0.9"/>
<line x1="268.5" y1="703.9" x2="437.6" y2="703.9" stroke="#444" stroke-width="0.9"/>
<line x1="267.3" y1="548.8" x2="268.5" y2="548.8" stroke="#666" stroke-width="0.5"/>
<text class="s" x="266.8" y="550.24" font-size="3.57" text-anchor="end" textLength="6.82" lengthAdjust="spacingAndGlyphs">0.04</text>
<line x1="267.3" y1="587.4" x2="268.5" y2="587.4" stroke="#666" stroke-width="0.5"/>
<text class="s" x="266.8" y="588.84" font-size="3.57" text-anchor="end" textLength="6.82" lengthAdjust="spacingAndGlyphs">0.03</text>
<line x1="267.3" y1="626" x2="268.5" y2="626" stroke="#666" stroke-width="0.5"/>
<text class="s" x="266.8" y="627.44" font-size="3.57" text-anchor="end" textLength="6.82" lengthAdjust="spacingAndGlyphs">0.02</text>
<line x1="267.3" y1="665" x2="268.5" y2="665" stroke="#666" stroke-width="0.5"/>
<text class="s" x="266.8" y="666.44" font-size="3.57" text-anchor="end" textLength="6.82" lengthAdjust="spacingAndGlyphs">0.01</text>
<line x1="267.3" y1="703.8" x2="268.5" y2="703.8" stroke="#666" stroke-width="0.5"/>
<text class="s" x="266.8" y="705.24" font-size="3.57" text-anchor="end" textLength="6.82" lengthAdjust="spacingAndGlyphs">0.00</text>
<line x1="309" y1="703.9" x2="309" y2="705.1" stroke="#555" stroke-width="0.5"/>
<text class="s" x="309" y="709.79" font-size="4.14" text-anchor="middle" textLength="27.7" lengthAdjust="spacingAndGlyphs">Split Data 70/30</text>
<line x1="396.7" y1="703.9" x2="396.7" y2="705.1" stroke="#555" stroke-width="0.5"/>
<text class="s" x="396.7" y="709.79" font-size="4.14" text-anchor="middle" textLength="27.7" lengthAdjust="spacingAndGlyphs">Split Data 80/20</text>
<text class="s" x="353.1" y="714.99" font-size="4.14" text-anchor="middle" textLength="18.6" lengthAdjust="spacingAndGlyphs">Data Splits</text>
<text class="s" x="0" y="1.49" font-size="4.14" text-anchor="middle" textLength="25.12" lengthAdjust="spacingAndGlyphs" transform="translate(255.1 609) rotate(-90)">Hamming Loss</text>
<text class="s t" x="353" y="511.95" font-size="5.41" text-anchor="middle" textLength="86" lengthAdjust="spacingAndGlyphs">Hamming Loss Comparison Across Models</text>
<clipPath id="lc7"><rect x="438.8" y="515.2" width="29.4" height="31.3"/></clipPath><g clip-path="url(#lc7)">
<rect x="439.8" y="516.2" width="28.1" height="29.3" rx="0.8" fill="#fff" stroke="#e4e4e4" stroke-width="0.6"/>
<rect x="441.15" y="518" width="6.2" height="2.4" fill="#1f77b4"/>
<text class="s l" x="451.1" y="520.55" font-size="3.76" textLength="6.82" lengthAdjust="spacingAndGlyphs">CNN</text>
<rect x="441.15" y="523.5" width="6.2" height="2.4" fill="#ff7f0e"/>
<text class="s l" x="451.1" y="526.05" font-size="3.76" textLength="7" lengthAdjust="spacingAndGlyphs">GRU</text>
<rect x="441.15" y="529.4" width="6.2" height="2.4" fill="#2ca02c"/>
<text class="s l" x="451.1" y="531.95" font-size="3.76" textLength="6.82" lengthAdjust="spacingAndGlyphs">RNN</text>
<rect x="441.15" y="535.1" width="6.2" height="2.4" fill="#d62728"/>
<text class="s l" x="451.1" y="537.65" font-size="3.76" textLength="8.4" lengthAdjust="spacingAndGlyphs">LSTM</text>
<rect x="441.15" y="540.5" width="6.2" height="2.4" fill="#9467bd"/>
<text class="s l" x="451.1" y="543.05" font-size="3.76" textLength="15.01" lengthAdjust="spacingAndGlyphs">Proposed</text>
</g>
<text class="c" x="278" y="746" textLength="21.92" lengthAdjust="spacingAndGlyphs">(h)</text>
<text class="c" x="305.2" y="746" textLength="112.03" lengthAdjust="spacingAndGlyphs">Hamming Loss</text>
</g>
<g>
<rect x="500.9" y="532.3" width="12.3" height="168.1" fill="#1f77b4"/>
<rect x="513.15" y="531.5" width="12.3" height="168.9" fill="#ff7f0e"/>
<rect x="525.4" y="527.2" width="12.3" height="173.2" fill="#2ca02c"/>
<rect x="537.65" y="532.3" width="12.3" height="168.1" fill="#d62728"/>
<rect x="549.9" y="525.2" width="12.3" height="175.2" fill="#9467bd"/>
<rect x="582.7" y="529.9" width="12.3" height="170.5" fill="#1f77b4"/>
<rect x="594.95" y="529.1" width="12.3" height="171.3" fill="#ff7f0e"/>
<rect x="607.2" y="525.5" width="12.3" height="174.9" fill="#2ca02c"/>
<rect x="619.45" y="529.7" width="12.3" height="170.7" fill="#d62728"/>
<rect x="631.7" y="523.1" width="12.3" height="177.3" fill="#9467bd"/>
<line x1="493.7" y1="514.1" x2="651.6" y2="514.1" stroke="#999" stroke-width="0.9"/>
<line x1="651.6" y1="514.1" x2="651.6" y2="700.4" stroke="#ccc" stroke-width="0.9"/>
<line x1="493.7" y1="514.1" x2="493.7" y2="700.4" stroke="#ccc" stroke-width="0.9"/>
<line x1="493.7" y1="700.4" x2="651.6" y2="700.4" stroke="#bbb" stroke-width="0.9"/>
<line x1="492.5" y1="519.9" x2="493.7" y2="519.9" stroke="#666" stroke-width="0.5"/>
<text class="s" x="491.1" y="521.25" font-size="3.34" text-anchor="end" textLength="4.55" lengthAdjust="spacingAndGlyphs">1.0</text>
<line x1="492.5" y1="556" x2="493.7" y2="556" stroke="#666" stroke-width="0.5"/>
<text class="s" x="491.1" y="557.35" font-size="3.34" text-anchor="end" textLength="4.55" lengthAdjust="spacingAndGlyphs">0.8</text>
<line x1="492.5" y1="592.1" x2="493.7" y2="592.1" stroke="#666" stroke-width="0.5"/>
<text class="s" x="491.1" y="593.45" font-size="3.34" text-anchor="end" textLength="4.55" lengthAdjust="spacingAndGlyphs">0.6</text>
<line x1="492.5" y1="628.2" x2="493.7" y2="628.2" stroke="#666" stroke-width="0.5"/>
<text class="s" x="491.1" y="629.55" font-size="3.34" text-anchor="end" textLength="4.55" lengthAdjust="spacingAndGlyphs">0.4</text>
<line x1="492.5" y1="664.3" x2="493.7" y2="664.3" stroke="#666" stroke-width="0.5"/>
<text class="s" x="491.1" y="665.65" font-size="3.34" text-anchor="end" textLength="4.55" lengthAdjust="spacingAndGlyphs">0.2</text>
<line x1="492.5" y1="700.4" x2="493.7" y2="700.4" stroke="#666" stroke-width="0.5"/>
<text class="s" x="491.1" y="701.75" font-size="3.34" text-anchor="end" textLength="4.55" lengthAdjust="spacingAndGlyphs">0.0</text>
<line x1="531.5" y1="700.4" x2="531.5" y2="701.6" stroke="#555" stroke-width="0.5"/>
<text class="s" x="531.5" y="705.79" font-size="3.87" text-anchor="middle" textLength="25.3" lengthAdjust="spacingAndGlyphs">Split Data 70/30</text>
<line x1="613.4" y1="700.4" x2="613.4" y2="701.6" stroke="#555" stroke-width="0.5"/>
<text class="s" x="613.4" y="705.79" font-size="3.87" text-anchor="middle" textLength="25.3" lengthAdjust="spacingAndGlyphs">Split Data 80/20</text>
<text class="s" x="572.5" y="710.89" font-size="3.87" text-anchor="middle" textLength="16.8" lengthAdjust="spacingAndGlyphs">Data Splits</text>
<text class="s" x="0" y="1.39" font-size="3.87" text-anchor="middle" textLength="25.2" lengthAdjust="spacingAndGlyphs" transform="translate(483.3 607.5) rotate(-90)">Jaccard Score</text>
<text class="s t" x="572" y="512.02" font-size="5.05" text-anchor="middle" textLength="76.7" lengthAdjust="spacingAndGlyphs">Jaccard Score Comparison Across Models</text>
<clipPath id="lc8"><rect x="651.9" y="515" width="26.8" height="30.5"/></clipPath><g clip-path="url(#lc8)">
<rect x="652.9" y="516" width="25.5" height="28.5" rx="0.8" fill="#fff" stroke="#e4e4e4" stroke-width="0.6"/>
<rect x="653.95" y="517.9" width="6.5" height="2.4" fill="#1f77b4"/>
<text class="s l" x="663.4" y="520.36" font-size="3.51" textLength="6.37" lengthAdjust="spacingAndGlyphs">CNN</text>
<rect x="653.95" y="523.4" width="6.5" height="2.4" fill="#ff7f0e"/>
<text class="s l" x="663.4" y="525.86" font-size="3.51" textLength="6.53" lengthAdjust="spacingAndGlyphs">GRU</text>
<rect x="653.95" y="528.8" width="6.5" height="2.4" fill="#2ca02c"/>
<text class="s l" x="663.4" y="531.26" font-size="3.51" textLength="6.37" lengthAdjust="spacingAndGlyphs">RNN</text>
<rect x="653.95" y="534.3" width="6.5" height="2.4" fill="#d62728"/>
<text class="s l" x="663.4" y="536.76" font-size="3.51" textLength="7.84" lengthAdjust="spacingAndGlyphs">LSTM</text>
<rect x="653.95" y="539.9" width="6.5" height="2.4" fill="#9467bd"/>
<text class="s l" x="663.4" y="542.36" font-size="3.51" textLength="14.01" lengthAdjust="spacingAndGlyphs">Proposed</text>
</g>
<text class="c" x="506.2" y="741.2" textLength="17.75" lengthAdjust="spacingAndGlyphs">(i)</text>
<text class="c" x="533.9" y="741.2" textLength="100.82" lengthAdjust="spacingAndGlyphs">Jaccard Score</text>
</g>
<g>
<rect x="243.0" y="1.5" width="1.2" height="770.5" fill="#2b2b2b"/>
<rect x="471.0" y="1.5" width="1.1" height="770.5" fill="#3a3a3a"/>
<rect x="1.5" y="251.2" width="682.5" height="1.6" fill="#a4a4a4"/>
<rect x="1.5" y="504.85" width="682.5" height="1.0" fill="#555"/>
<rect x="1.2" y="1.0" width="1.6" height="771.8" fill="#606060"/>
<rect x="682.8" y="1.0" width="1.25" height="771.8" fill="#6c6c6c"/>
<rect x="1.2" y="0.95" width="682.8" height="1.05" fill="#505050"/>
<rect x="1.2" y="771.75" width="682.8" height="1.05" fill="#6c6c6c"/>
<rect x="1.2" y="1.0" width="9" height="1.6" fill="#333"/>
<rect x="211.4" y="1.9" width="39.6" height="1.1" fill="#8c8c8c"/>
<rect x="471.4" y="1.9" width="8.3" height="1.0" fill="#666"/>
<rect x="1.5" y="504.75" width="8.5" height="1.2" fill="#111"/>
<rect x="243.0" y="504.75" width="8.2" height="1.2" fill="#111"/>
<rect x="469.9" y="504.75" width="9.8" height="1.2" fill="#111"/>
<rect x="681.0" y="504.75" width="3.0" height="1.2" fill="#222"/>
</g>
</svg></body></html>
